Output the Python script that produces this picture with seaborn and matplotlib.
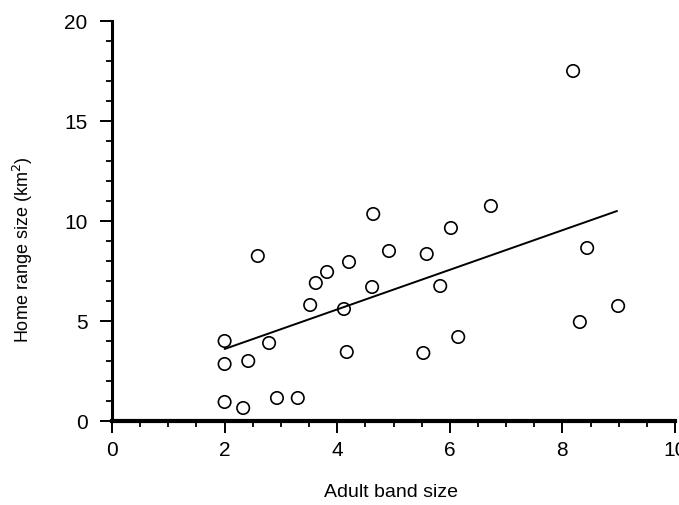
import matplotlib
matplotlib.use("Agg")
import matplotlib.pyplot as plt
from matplotlib.ticker import MultipleLocator
import seaborn as sns
import pandas as pd

# Data
band_size = [2.0, 2.33, 2.0, 2.0, 2.42, 2.93, 3.3, 2.79, 2.59, 3.52,
             3.62, 3.82, 4.21, 4.12, 4.17, 4.62, 4.64, 4.92, 5.59, 5.53,
             5.83, 6.02, 6.15, 6.73, 8.19, 8.44, 8.31, 8.99]
home_range = [0.95, 0.65, 2.85, 4.0, 3.0, 1.15, 1.15, 3.9, 8.25, 5.8,
              6.9, 7.45, 7.95, 5.6, 3.45, 6.7, 10.35, 8.5, 8.35, 3.4,
              6.75, 9.65, 4.2, 10.75, 17.5, 8.65, 4.95, 5.75]
fit_x = [2.0, 8.97]
fit_y = [3.6, 10.5]
x_ticks = [0, 2, 4, 6, 8, 10]
y_ticks = [0, 5, 10, 15, 20]

df = pd.DataFrame({"band": band_size, "range": home_range})
fit = pd.DataFrame({"x": fit_x, "y": fit_y})

sns.set_theme(style="ticks")
plt.rcParams['font.family'] = ['Liberation Sans', 'DejaVu Sans']

fig = plt.figure(figsize=(6.79, 5.06), dpi=100)
ax = fig.add_axes([112/679, 1-422/506, (675-112)/679, 400/506])

sns.scatterplot(data=df, x="band", y="range", ax=ax, marker="o", s=80,
                facecolor="none", edgecolor="black", linewidth=1.2, zorder=3)
sns.lineplot(data=fit, x="x", y="y", ax=ax, color="black", linewidth=1.4,
             zorder=2)

ax.set_xlim(0, 10)
ax.set_ylim(0, 20)
ax.set_xticks(x_ticks)
ax.set_yticks(y_ticks)
ax.set_xticklabels([str(v) for v in x_ticks])
ax.set_yticklabels([str(v) for v in y_ticks])
ax.xaxis.set_minor_locator(MultipleLocator(0.5))
ax.yaxis.set_minor_locator(MultipleLocator(1))

for s in ["top", "right"]:
    ax.spines[s].set_visible(False)
ax.spines["left"].set_linewidth(2.2)
ax.spines["bottom"].set_linewidth(3.0)
ax.spines["left"].set_color("black")
ax.spines["bottom"].set_color("black")

ax.tick_params(axis="both", which="major", direction="out", length=8.5,
               width=1.4, color="black", labelsize=15, labelcolor="black")
ax.tick_params(axis="x", which="major", pad=5)
ax.tick_params(axis="y", which="major", pad=9)
ax.tick_params(axis="both", which="minor", direction="out", length=4,
               width=1.3, color="black")

ax.set_xlabel("Adult band size", fontsize=14, color="black")
ax.set_ylabel(r"Home range size (km$^2$)", fontsize=13, color="black")
ax.xaxis.set_label_coords(0.496, -0.155)
ax.yaxis.set_label_coords(-0.137, 0.43)

fig.savefig("out.png", dpi=100, facecolor="white")
